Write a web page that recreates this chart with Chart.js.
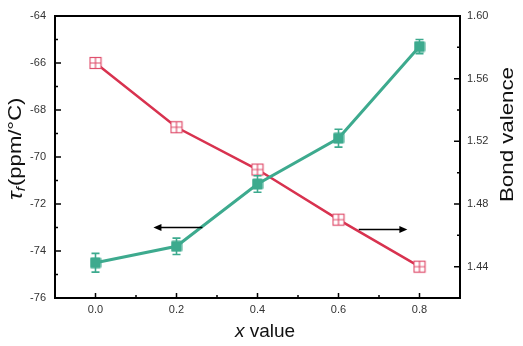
<!DOCTYPE html>
<html><head><meta charset="utf-8">
<script src="https://cdn.jsdelivr.net/npm/chart.js@4.4.0/dist/chart.umd.min.js"></script>
<style>html,body{margin:0;padding:0;background:#fff}#wrap{width:523px;height:346px}</style>
</head><body><div id="wrap"><canvas id="c" width="523" height="346"></canvas></div>
<script>
const xValues=[0.0,0.2,0.4,0.6,0.8];
const tauF=[-74.5,-73.8,-71.15,-69.2,-65.3];
const tauFErr=[0.4,0.35,0.35,0.38,0.3];
const bondValence=[1.570,1.529,1.502,1.470,1.440];
const xTicks=[0.0,0.2,0.4,0.6,0.8];
const leftTicks=[-76,-74,-72,-70,-68,-66,-64];
const rightTicks=[1.44,1.48,1.52,1.56,1.60];
const leftArrow={y:-73.0,from:0.264,to:0.143};
const rightArrow={y:1.4637,from:0.65,to:0.77};

const GREEN='#3DAA8E', RED='#D8324F', PINK='#E0506E';
const FONT='"Liberation Sans", Arial, sans-serif';

function greenMarker(){
  const c=document.createElement('canvas');c.width=12;c.height=12;
  const g=c.getContext('2d');g.fillStyle=GREEN;
  g.beginPath();g.roundRect?g.roundRect(0.5,0.5,11,11,1.5):g.rect(0.5,0.5,11,11);g.fill();
  return c;
}
function redMarker(){
  const c=document.createElement('canvas');c.width=14;c.height=14;
  const g=c.getContext('2d');
  g.fillStyle='#fff';g.fillRect(1,1,12,12);
  g.strokeStyle=PINK;g.lineWidth=1.2;
  g.strokeRect(1.5,1.5,11,11);
  g.beginPath();g.moveTo(7,1.5);g.lineTo(7,12.5);g.moveTo(1.5,7);g.lineTo(12.5,7);g.stroke();
  return c;
}

const errorBars={
  id:'errorBars',
  beforeDatasetDraw(chart,args){
    if(args.index!==1)return;
    const ctx=chart.ctx,xs=chart.scales.x,ys=chart.scales.y;
    ctx.save();ctx.strokeStyle=GREEN;ctx.lineWidth=1.6;
    xValues.forEach((xv,i)=>{
      const px=xs.getPixelForValue(xv);
      const top=ys.getPixelForValue(tauF[i]+tauFErr[i]);
      const bot=ys.getPixelForValue(tauF[i]-tauFErr[i]);
      ctx.beginPath();ctx.moveTo(px,top);ctx.lineTo(px,bot);
      ctx.moveTo(px-4,top);ctx.lineTo(px+4,top);
      ctx.moveTo(px-4,bot);ctx.lineTo(px+4,bot);ctx.stroke();
    });
    ctx.restore();
  }
};

function arrow(ctx,x1,y,x2){
  const dir=Math.sign(x2-x1);
  ctx.beginPath();ctx.moveTo(x1,y);ctx.lineTo(x2-dir*6,y);ctx.stroke();
  ctx.beginPath();ctx.moveTo(x2,y);ctx.lineTo(x2-dir*8,y-3.5);ctx.lineTo(x2-dir*8,y+3.5);ctx.closePath();ctx.fill();
}

const decor={
  id:'decor',
  afterDraw(chart){
    const ctx=chart.ctx,a=chart.chartArea;
    const xs=chart.scales.x,ys=chart.scales.y,y1=chart.scales.y1;
    ctx.save();
    ctx.strokeStyle='#000';ctx.lineWidth=2;
    ctx.strokeRect(a.left,a.top,a.right-a.left,a.bottom-a.top);
    ctx.lineWidth=1.5;
    ctx.beginPath();
    for(let v=-76;v<=-64;v+=1){
      const p=ys.getPixelForValue(v);const L=(v%2===0)?6:3;
      ctx.moveTo(a.left,p);ctx.lineTo(a.left+L,p);
    }
    for(let v=0;v<=9;v++){
      const val=1.42+v*0.02;const p=y1.getPixelForValue(val);const L=(v%2===1)?6:3;
      ctx.moveTo(a.right,p);ctx.lineTo(a.right-L,p);
    }
    for(let v=-1;v<=9;v++){
      const p=xs.getPixelForValue(v/10);const L=(v%2===0)?5:3;
      ctx.moveTo(p,a.bottom);ctx.lineTo(p,a.bottom-L);
    }
    ctx.stroke();
    // arrows
    ctx.strokeStyle='#000';ctx.fillStyle='#000';ctx.lineWidth=1.5;
    arrow(ctx,xs.getPixelForValue(leftArrow.from),ys.getPixelForValue(leftArrow.y),xs.getPixelForValue(leftArrow.to));
    arrow(ctx,xs.getPixelForValue(rightArrow.from),y1.getPixelForValue(rightArrow.y),xs.getPixelForValue(rightArrow.to));
    // titles
    ctx.fillStyle='#111';ctx.textBaseline='middle';
    // x title
    ctx.font='italic 19px '+FONT;
    const wx=ctx.measureText('x').width;
    ctx.font='19px '+FONT;
    const wv=ctx.measureText(' value').width;
    let sx=265-(wx+wv)/2;
    ctx.font='italic 19px '+FONT;ctx.textAlign='left';ctx.fillText('x',sx,332);
    ctx.font='19px '+FONT;ctx.fillText(' value',sx+wx,332);
    // left title
    ctx.save();
    ctx.translate(16,200);ctx.rotate(-Math.PI/2);ctx.scale(1.16,1);
    ctx.font='italic 20px '+FONT;ctx.fillText('\u03C4',0,0);
    let w=ctx.measureText('\u03C4').width;
    ctx.font='italic 13px '+FONT;ctx.fillText('f',w,5);
    w+=ctx.measureText('f').width+1;
    ctx.font='19px '+FONT;ctx.fillText('(ppm/\u00B0C)',w,0);
    ctx.restore();
    // right title
    ctx.save();
    ctx.font='19px '+FONT;
    const tw=ctx.measureText('Bond valence').width;
    ctx.translate(508,202);ctx.rotate(-Math.PI/2);ctx.scale(135/tw,1);
    ctx.fillText('Bond valence',0,0);
    ctx.restore();
    ctx.restore();
  }
};

const tickFont={family:FONT,size:11};
new Chart(document.getElementById('c'),{
  type:'line',
  data:{datasets:[
    {label:'Bond valence',data:xValues.map((x,i)=>({x,y:bondValence[i]})),yAxisID:'y1',
     borderColor:RED,borderWidth:2.5,pointStyle:redMarker(),pointRadius:7,order:2},
    {label:'tau_f',data:xValues.map((x,i)=>({x,y:tauF[i]})),yAxisID:'y',
     borderColor:GREEN,borderWidth:3,pointStyle:greenMarker(),pointRadius:6,order:1}
  ]},
  options:{
    responsive:false,animation:false,devicePixelRatio:1,
    layout:{padding:{top:16,left:0,right:0,bottom:0}},
    plugins:{legend:{display:false},tooltip:{enabled:false}},
    scales:{
      x:{type:'linear',min:-0.1,max:0.9,
        afterBuildTicks:s=>{s.ticks=xTicks.map(v=>({value:v}));},
        afterFit:s=>{s.height=48;},
        ticks:{callback:v=>Number(v).toFixed(1),font:tickFont,color:'#333',padding:5,maxRotation:0},
        grid:{display:false,drawTicks:false},border:{display:false}},
      y:{position:'left',min:-76,max:-64,
        afterBuildTicks:s=>{s.ticks=leftTicks.map(v=>({value:v}));},
        afterFit:s=>{s.width=55;},
        ticks:{callback:v=>String(v),font:tickFont,color:'#333',padding:9},
        grid:{display:false,drawTicks:false},border:{display:false}},
      y1:{position:'right',min:1.42,max:1.60,
        afterBuildTicks:s=>{s.ticks=rightTicks.map(v=>({value:v}));},
        afterFit:s=>{s.width=63;},
        ticks:{callback:v=>Number(v).toFixed(2),font:tickFont,color:'#333',padding:7},
        grid:{display:false,drawTicks:false},border:{display:false}}
    }
  },
  plugins:[errorBars,decor]
});
</script></body></html>
